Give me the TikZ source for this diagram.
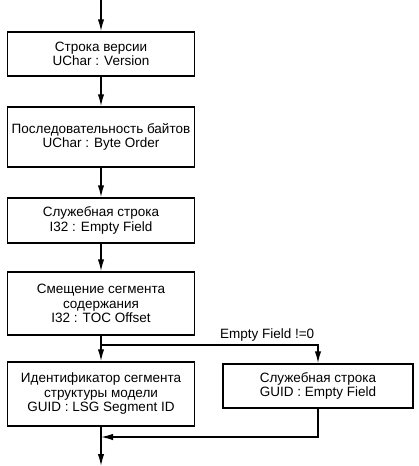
\documentclass[tikz,border=0pt]{standalone}
\usepackage{fontspec}
\setmainfont{Liberation Sans}
\usetikzlibrary{arrows.meta}

\begin{document}
\begin{tikzpicture}[x=1pt, y=-1pt, >={Latex[length=12pt,width=6.5pt]}, line width=1.5pt,
    blk/.style={draw, align=center, minimum width=187pt, inner sep=0pt,
        font=\fontsize{13.5}{14.5}\selectfont}]
    \useasboundingbox (0,0) rectangle (418,466);

    % Main column of blocks
    \coordinate (start) at (101,0);
    \node[blk, minimum height=44pt] (version) at (101,54) {Строка версии\\UChar : Version};
    \node[blk, minimum height=60pt] (order) at (101,137) {Последовательность байтов\\UChar : Byte Order};
    \node[blk, minimum height=45pt] (empty) at (101,220.5) {Служебная строка\\I32 : Empty Field};
    \node[blk, minimum height=63pt] (toc) at (101,303.5) {Смещение сегмента\\содержания\\I32 : TOC Offset};
    \node[blk, minimum height=64pt] (lsg) at (101,394) {Идентификатор сегмента\\структуры модели\\GUID : LSG Segment ID};

    % Optional block on the right
    \node[blk, minimum width=190pt, minimum height=44pt] (guid) at (318,386) {Служебная строка\\GUID : Empty Field};

    \draw[->] (start) -- (version);
    \draw[->] (version) -- (order);
    \draw[->] (order) -- (empty);
    \draw[->] (empty) -- (toc);
    \draw[->] (toc) -- (lsg);

    % Branch and return
    \coordinate (split) at (101,345);
    \coordinate (merge) at (101,437);
    \coordinate (end) at (101,466);
    \draw[->] (split) -| (guid.north)
        node[pos=0.5, above left, inner sep=3pt, font=\fontsize{13.5}{14.5}\selectfont] {Empty Field !=0};
    \draw[->] (guid.south) |- (merge);
    \draw[->] (lsg) -- (end);

\end{tikzpicture}
\end{document}
